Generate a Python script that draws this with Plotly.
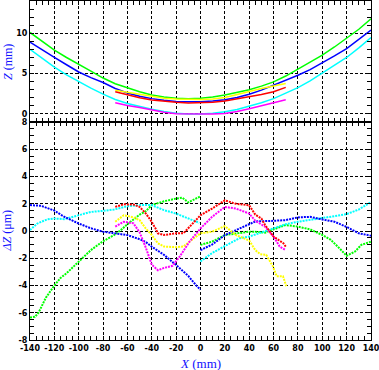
import plotly.graph_objects as go

# ---------------- Top panel: Z (mm) vs X (mm) ----------------
X_FULL = [-140, -130, -120, -110, -100, -90, -80, -70, -60, -50, -40, -30, -20, -10, 0,
          10, 20, 30, 40, 50, 60, 70, 80, 90, 100, 110, 120, 130, 140]
Z_GREEN = [10.1, 9.0, 7.9, 7.0, 6.2, 5.3, 4.45, 3.75, 3.25, 2.75, 2.35, 2.1, 1.95, 1.9, 1.95,
           2.1, 2.35, 2.65, 3.0, 3.45, 3.97, 4.7, 5.55, 6.4, 7.28, 8.3, 9.35, 10.5, 11.8]
Z_BLUE = [8.9, 7.9, 7.0, 6.1, 5.2, 4.5, 3.9, 3.15, 2.6, 2.2, 1.9, 1.7, 1.55, 1.5, 1.5,
          1.6, 1.75, 2.05, 2.45, 2.95, 3.55, 4.15, 4.8, 5.5, 6.3, 7.2, 8.1, 9.2, 10.4]
Z_CYAN = [8.0, 6.9, 5.8, 4.85, 4.0, 3.2, 2.45, 1.8, 1.3, 0.9, 0.58, 0.3, 0.1, 0.0, 0.0,
          0.1, 0.27, 0.55, 0.95, 1.4, 1.9, 2.55, 3.27, 4.1, 5.05, 6.0, 7.0, 8.2, 9.47]
X_PART = [-70, -60, -50, -40, -30, -20, -10, 0, 10, 20, 30, 40, 50, 60, 70]
Z_YELLOW = [2.95, 2.7, 2.4, 2.15, 1.95, 1.85, 1.8, 1.78, 1.85, 2.05, 2.4, 2.8, 3.15, 3.47, 3.78]
Z_RED = [2.75, 2.35, 2.0, 1.73, 1.55, 1.45, 1.36, 1.36, 1.45, 1.6, 1.85, 2.1, 2.4, 2.75, 3.3]
Z_MAGENTA = [1.4, 1.05, 0.8, 0.46, 0.2, 0.02, 0.0, 0.0, 0.0, 0.05, 0.3, 0.65, 1.0, 1.35, 1.75]

# ---------------- Bottom panel: dZ (um) vs X (mm) ----------------
DG_X_L = [-140, -136, -133, -130, -127, -120, -115, -110, -100, -90, -80, -71, -65, -60,
          -50, -45, -40, -30, -20, -15, -10, -5, 0]
DG_Y_L = [-6.35, -6.3, -6.0, -5.5, -4.9, -4.0, -3.45, -3.1, -2.25, -1.4, -0.75, -0.3, 0.1, 0.5,
          1.2, 1.45, 1.9, 2.18, 2.38, 2.45, 2.1, 2.35, 2.55]
DG_X_R = [0, 9.5, 20, 29, 40, 45, 53, 60, 70, 80, 90, 100, 107, 114, 120, 127, 132, 140]
DG_Y_R = [-1.02, -0.78, -0.3, -0.17, -0.05, -0.05, -0.12, 0.12, 0.44, 0.32, 0.12, -0.29,
          -0.65, -1.26, -1.82, -1.5, -1.02, -0.78]

DB_X_L = [-140, -131, -120, -112, -100, -90, -80, -71, -60, -50, -45, -40, -30, -20, -10, -3, 0]
DB_Y_L = [1.9, 1.85, 1.5, 1.05, 0.55, 0.2, -0.05, -0.17, -0.3, -0.6, -0.8, -1.15, -1.75,
          -2.5, -3.3, -4.05, -4.3]
DB_X_R = [0, 9.5, 20, 29, 40, 45, 60, 70, 80, 90, 100, 110, 120, 130, 140]
DB_Y_R = [-1.4, -1.0, -0.3, 0.07, 0.55, 0.7, 0.75, 0.8, 1.0, 1.04, 0.85, 0.68, 0.3, -0.17, -0.34]

DC_X_L = [-140, -134, -126, -120, -112, -100, -90, -80, -71, -60, -50, -40, -30, -20, -9, -1]
DC_Y_L = [0.07, 0.55, 0.85, 0.92, 0.87, 1.16, 1.4, 1.48, 1.58, 1.82, 1.9, 1.9, 1.53, 1.28,
          0.92, 0.6]
DC_X_R = [0, 9.5, 20, 32, 40, 45, 53, 60, 70, 80, 90, 100, 110, 120, 130, 140]
DC_Y_R = [-2.23, -1.62, -1.1, -0.53, -0.41, -0.25, -0.05, 0.19, 0.5, 0.68, 0.8, 0.92, 1.09,
          1.24, 1.58, 2.13]

DR_X = [-70, -63, -55, -50, -45, -41, -37, -35, -30, -20, -14, -9, 0, 9.5, 20, 29, 40, 45,
        50, 53, 60, 64, 68, 70]
DR_Y = [1.77, 1.96, 1.94, 1.77, 1.3, 0.8, 0.2, -0.17, -0.29, -0.17, -0.17, 0.32, 1.16, 1.65,
        2.25, 2.0, 1.89, 1.2, 0.92, 0.44, -0.41, -0.65, -0.9, -1.14]

DM_X = [-70, -63, -55, -50, -45, -40, -35, -30, -23, -17, -9, 0, 9.5, 20, 29, 40, 45, 53,
        60, 65, 69.5]
DM_Y = [0.32, 0.68, 0.56, -0.1, -1.2, -2.47, -2.88, -2.71, -2.55, -1.87, -0.78, 0.19, 1.04,
        1.77, 1.65, 1.28, 0.75, 0.32, -0.41, -1.14, -1.38]

DY_X = [-70, -63, -55, -50, -45, -40, -35, -30, -20, -14, -9, 0, 9.5, 20, 29, 40, 45, 49,
        54, 59.5, 62.5, 67.7, 70.5]
DY_Y = [0.68, 1.16, 1.0, 0.8, 0.19, -0.29, -0.9, -1.14, -1.19, -1.14, -0.78, -0.17, -0.05,
        0.36, -0.29, -0.7, -1.4, -1.7, -1.75, -2.6, -3.32, -3.32, -4.05]

X_TICKS = [-140, -120, -100, -80, -60, -40, -20, 0, 20, 40, 60, 80, 100, 120, 140]
X_TICKTEXT = ["-140", "-120", "-100", "-80", "-60", "-40", "-20", "0", "20", "40", "60",
              "80", "100", "120", "140"]
Y1_TICKS = [0, 5, 10]
Y1_TICKTEXT = ["0", "5", "10"]
Y2_TICKS = [-8, -6, -4, -2, 0, 2, 4, 6, 8]
Y2_TICKTEXT = ["-8", "-6", "-4", "-2", "0", "2", "4", "6", "8"]

GREEN, BLUE, CYAN = "#00ff00", "#0000ff", "#00ffff"
YELLOW, RED, MAGENTA = "#ffff00", "#ff0000", "#ff00ff"

fig = go.Figure()

for ys, c in [(Z_CYAN, CYAN), (Z_GREEN, GREEN), (Z_BLUE, BLUE)]:
    fig.add_trace(go.Scatter(x=X_FULL, y=ys, mode="lines", line=dict(color=c, width=1.5),
                             xaxis="x", yaxis="y", showlegend=False))
for ys, c in [(Z_MAGENTA, MAGENTA), (Z_YELLOW, YELLOW), (Z_RED, RED)]:
    fig.add_trace(go.Scatter(x=X_PART, y=ys, mode="lines", line=dict(color=c, width=1.5),
                             xaxis="x", yaxis="y", showlegend=False))

DOT = "2px,1px"
def seg(xl, yl, xr, yr):
    return xl + [None] + xr, yl + [None] + yr

for (xs, ys), c in [
    (seg(DG_X_L, DG_Y_L, DG_X_R, DG_Y_R), GREEN),
    (seg(DC_X_L, DC_Y_L, DC_X_R, DC_Y_R), CYAN),
    (seg(DB_X_L, DB_Y_L, DB_X_R, DB_Y_R), BLUE),
    ((DY_X, DY_Y), YELLOW),
    ((DM_X, DM_Y), MAGENTA),
    ((DR_X, DR_Y), RED),
]:
    fig.add_trace(go.Scatter(x=xs, y=ys, mode="lines", connectgaps=False,
                             line=dict(color=c, width=2, dash=DOT),
                             xaxis="x2", yaxis="y2", showlegend=False))

TICKFONT = dict(family="DejaVu Sans", size=8, color="black", weight="bold")
common = dict(showline=True, linecolor="black", linewidth=1, mirror="allticks",
              ticks="inside", ticklen=4, tickcolor="black", tickwidth=1,
              showgrid=True, gridcolor="black", gridwidth=1, griddash="3px,2px",
              zeroline=False, tickfont=TICKFONT, automargin=False,
              ticklabeloverflow="allow")

fig.update_layout(
    width=379, height=370,
    margin=dict(l=30, r=8, t=1, b=30),
    paper_bgcolor="white", plot_bgcolor="white",
    xaxis=dict(domain=[0, 1], anchor="y", range=[-140, 140], tickmode="array",
               tickvals=X_TICKS, showticklabels=False,
               minor=dict(ticks="inside", dtick=5, tick0=0, ticklen=4, tickcolor="black",
                          showgrid=False), **common),
    xaxis2=dict(domain=[0, 1], anchor="y2", range=[-140, 140], matches="x", tickmode="array",
                tickvals=X_TICKS, ticktext=X_TICKTEXT,
                minor=dict(ticks="inside", dtick=5, tick0=0, ticklen=4, tickcolor="black",
                           showgrid=False), **common),
    yaxis=dict(domain=[0.643, 1], anchor="x", range=[-1, 14], tickmode="array",
               tickvals=Y1_TICKS, ticktext=Y1_TICKTEXT,
               minor=dict(ticks="inside", dtick=1, tick0=0, ticklen=4, tickcolor="black",
                          showgrid=False), **common),
    yaxis2=dict(domain=[0, 0.643], anchor="x2", range=[-8, 8], tickmode="array",
                tickvals=Y2_TICKS, ticktext=Y2_TICKTEXT,
                minor=dict(ticks="inside", dtick=0.5, tick0=0, ticklen=4, tickcolor="black",
                           showgrid=False), **common),
    annotations=[
        dict(text="<i>Z</i> (mm)", xref="paper", yref="paper", x=-0.066, y=0.8215,
             xanchor="center", yanchor="middle", textangle=-90, showarrow=False,
             font=dict(family="Liberation Serif", size=12, color="#1010ff")),
        dict(text="<i>\u0394Z</i> (\u03bcm)", xref="paper", yref="paper", x=-0.066, y=0.3215,
             xanchor="center", yanchor="middle", textangle=-90, showarrow=False,
             font=dict(family="Liberation Serif", size=12, color="#1010ff")),
        dict(text="<i>X</i> (mm)", xref="paper", yref="paper", x=0.5, y=-0.068,
             xanchor="center", yanchor="middle", showarrow=False,
             font=dict(family="Liberation Serif", size=13, color="#1010ff")),
    ],
)

fig.write_html("out.html", config={"displayModeBar": False},
               post_script="document.body.style.margin='0';")
